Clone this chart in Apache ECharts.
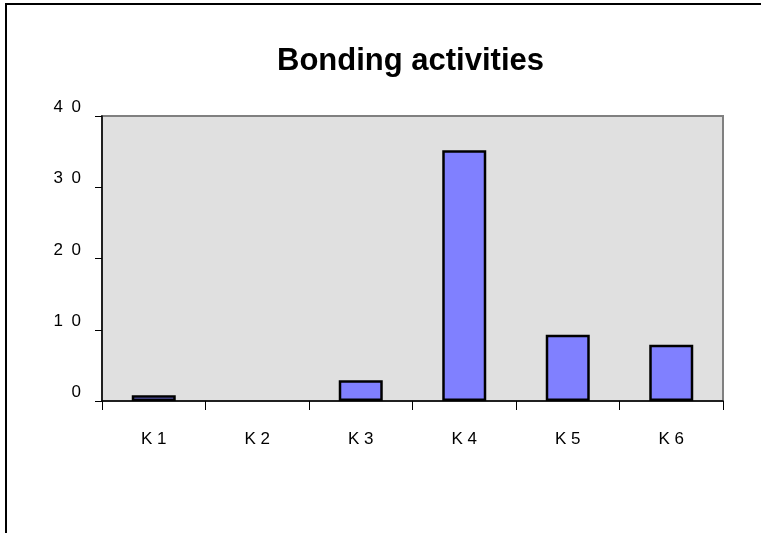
<!DOCTYPE html>
<html>
<head>
<meta charset="utf-8">
<script src="https://cdn.jsdelivr.net/npm/echarts@6/dist/echarts.min.js"></script>
<style>
html,body{margin:0;padding:0;background:#fff;}
#chart{width:761px;height:533px;}
</style>
</head>
<body>
<div id="chart"></div>
<script>
var titleText = 'Bonding activities';
var categories = ['K1', 'K2', 'K3', 'K4', 'K5', 'K6'];
var values = [0.8, 0, 2.9, 35.2, 9.3, 7.9];
var yMin = 0, yMax = 40, yStep = 10;

function spaced(s) { return String(s).split('').join(' '); }

var font = '"Liberation Sans", Arial, sans-serif';
var titleSize = 31;
var ctx = document.createElement('canvas').getContext('2d');
ctx.font = 'bold ' + titleSize + 'px ' + font;
var titleW = ctx.measureText(titleText).width;
var titleCenter = 410;

var barData = values.map(function (v) {
  return v === 0 ? {value: v, itemStyle: {borderWidth: 0}} : v;
});

var chart = echarts.init(document.getElementById('chart'), null, {renderer: 'canvas'});
chart.setOption({
  animation: false,
  backgroundColor: '#ffffff',
  title: {
    text: titleText,
    left: Math.round(titleCenter - titleW / 2),
    top: 46,
    padding: 0,
    textStyle: {fontFamily: font, fontSize: titleSize, fontWeight: 'bold', color: '#000'}
  },
  graphic: [{
    type: 'rect',
    shape: {x: 6, y: 4, width: 800, height: 600},
    style: {fill: 'none', stroke: '#000', lineWidth: 2},
    silent: true
  }],
  grid: {
    left: 102, right: 38, top: 116, bottom: 132,
    show: true, backgroundColor: '#e0e0e0', borderColor: '#808080', borderWidth: 2
  },
  xAxis: {
    type: 'category',
    data: categories,
    axisLine: {lineStyle: {color: '#000', width: 1.5}},
    axisTick: {show: true, length: 9, lineStyle: {color: '#000', width: 1}},
    axisLabel: {
      margin: 30, fontFamily: font, fontSize: 17, color: '#000',
      formatter: function (v) { return spaced(v); }
    },
    splitLine: {show: false}
  },
  yAxis: {
    type: 'value',
    min: yMin, max: yMax, interval: yStep,
    axisLine: {show: true, lineStyle: {color: '#000', width: 1.5}},
    axisTick: {show: true, length: 7, lineStyle: {color: '#000', width: 1}},
    axisLabel: {
      margin: 21, fontFamily: font, fontSize: 17, color: '#000',
      verticalAlign: 'bottom',
      formatter: function (v) { return String(v).split('').join('\u2002'); }
    },
    splitLine: {show: false}
  },
  series: [{
    type: 'bar',
    data: barData,
    barWidth: 44,
    itemStyle: {color: '#8080ff', borderColor: '#000', borderWidth: 2.5}
  }]
});
</script>
</body>
</html>
